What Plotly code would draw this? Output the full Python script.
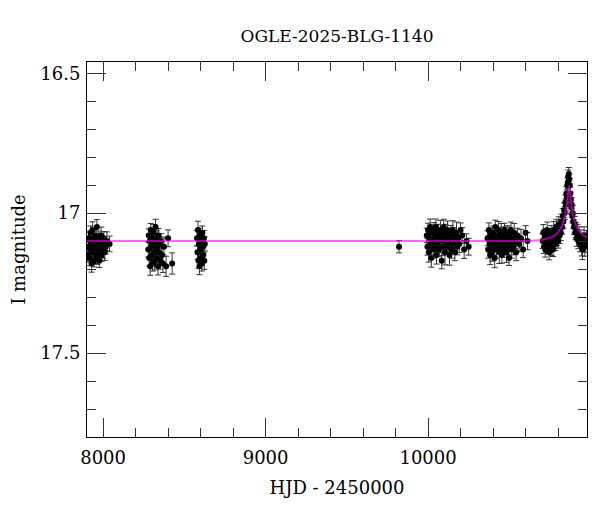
import plotly.graph_objects as go

# ---- data (HJD - 2450000, I mag, error) ----
t1 = [7906, 7910, 7913, 7917, 7920, 7923, 7926, 7929, 7932, 7935, 7938, 7941, 7944, 7947, 7950, 7953, 7956, 7959, 7962, 7965,
      7968, 7971, 7974, 7977, 7980, 7984, 7988, 7992, 7996, 8000, 8005, 8010, 8016, 8024, 8040]
m1 = [17.15, 17.12, 17.09, 17.16, 17.10, 17.07, 17.13, 17.18, 17.11, 17.06, 17.14, 17.09, 17.17, 17.12, 17.08, 17.15, 17.10, 17.13, 17.05, 17.16,
      17.11, 17.09, 17.14, 17.17, 17.10, 17.12, 17.08, 17.15, 17.11, 17.13, 17.09, 17.14, 17.12, 17.10, 17.11]
e1 = [0.025, 0.030, 0.022, 0.028, 0.035, 0.024, 0.027, 0.031, 0.023, 0.029, 0.026, 0.033, 0.022, 0.028, 0.025, 0.030, 0.024, 0.036, 0.027, 0.023,
      0.029, 0.026, 0.032, 0.024, 0.028, 0.025, 0.030, 0.022, 0.027, 0.031, 0.024, 0.029, 0.026, 0.033, 0.028]

t2 = [8278, 8281, 8284, 8287, 8290, 8293, 8296, 8299, 8302, 8305, 8308, 8311, 8314, 8317, 8320, 8323, 8326, 8329, 8332, 8335,
      8338, 8341, 8344, 8348, 8352, 8356, 8362, 8368, 8375, 8388, 8400, 8425]
m2 = [17.13, 17.08, 17.16, 17.10, 17.19, 17.06, 17.12, 17.15, 17.09, 17.18, 17.11, 17.07, 17.14, 17.17, 17.10, 17.05, 17.13, 17.16, 17.09, 17.12,
      17.19, 17.08, 17.14, 17.11, 17.17, 17.10, 17.15, 17.18, 17.12, 17.19, 17.09, 17.18]
e2 = [0.027, 0.024, 0.030, 0.026, 0.032, 0.023, 0.028, 0.025, 0.031, 0.027, 0.024, 0.029, 0.026, 0.033, 0.025, 0.028, 0.030, 0.024, 0.027, 0.029,
      0.031, 0.025, 0.028, 0.026, 0.030, 0.027, 0.029, 0.032, 0.034, 0.036, 0.030, 0.038]

t3 = [8578, 8581, 8584, 8587, 8590, 8593, 8596, 8599, 8602, 8605, 8608, 8611, 8614, 8617, 8620, 8623, 8626]
m3 = [17.09, 17.14, 17.06, 17.17, 17.11, 17.19, 17.08, 17.13, 17.16, 17.10, 17.18, 17.07, 17.12, 17.15, 17.09, 17.17, 17.11]
e3 = [0.028, 0.025, 0.031, 0.027, 0.024, 0.030, 0.026, 0.029, 0.025, 0.032, 0.027, 0.024, 0.030, 0.026, 0.028, 0.031, 0.025]

t_single = [9821]
m_single = [17.12]
e_single = [0.022]

t4 = [9992, 9996, 10000, 10004, 10008, 10012, 10016, 10020, 10024, 10028, 10032, 10036, 10040, 10044, 10048, 10052, 10056, 10060, 10064, 10068,
      10072, 10076, 10080, 10084, 10088, 10092, 10096, 10100, 10104, 10108, 10112, 10116, 10120, 10124, 10128, 10132, 10136, 10140, 10144, 10148,
      10152, 10156, 10160, 10165, 10170, 10175, 10180, 10186, 10192, 10200, 10210, 10222, 10236, 10250]
m4 = [17.08, 17.12, 17.06, 17.14, 17.09, 17.05, 17.11, 17.16, 17.07, 17.10, 17.13, 17.06, 17.09, 17.12, 17.05, 17.15, 17.08, 17.11, 17.07, 17.13,
      17.10, 17.06, 17.09, 17.17, 17.08, 17.12, 17.05, 17.10, 17.14, 17.07, 17.09, 17.12, 17.06, 17.11, 17.08, 17.15, 17.10, 17.07, 17.13, 17.09,
      17.06, 17.11, 17.08, 17.14, 17.10, 17.07, 17.12, 17.09, 17.11, 17.06, 17.08, 17.13, 17.10, 17.12]
e4 = [0.026, 0.030, 0.024, 0.035, 0.027, 0.029, 0.025, 0.033, 0.028, 0.024, 0.031, 0.026, 0.040, 0.027, 0.029, 0.032, 0.025, 0.028, 0.030, 0.026,
      0.024, 0.034, 0.027, 0.029, 0.025, 0.031, 0.028, 0.026, 0.045, 0.030, 0.027, 0.025, 0.032, 0.028, 0.024, 0.036, 0.029, 0.026, 0.031, 0.027,
      0.033, 0.025, 0.028, 0.030, 0.026, 0.038, 0.029, 0.027, 0.031, 0.025, 0.028, 0.032, 0.026, 0.030]

t5 = [10366, 10370, 10374, 10378, 10382, 10386, 10390, 10394, 10398, 10402, 10406, 10410, 10414, 10418, 10422, 10426, 10430, 10434, 10438, 10442,
      10446, 10450, 10454, 10458, 10462, 10466, 10470, 10474, 10478, 10482, 10486, 10490, 10494, 10498, 10502, 10506, 10510, 10515, 10520, 10525,
      10530, 10536, 10542, 10550, 10560, 10572, 10585, 10600, 10612]
m5 = [17.09, 17.13, 17.06, 17.11, 17.15, 17.08, 17.10, 17.14, 17.07, 17.12, 17.09, 17.16, 17.05, 17.10, 17.13, 17.08, 17.11, 17.06, 17.14, 17.09,
      17.12, 17.07, 17.15, 17.10, 17.08, 17.13, 17.06, 17.11, 17.09, 17.14, 17.07, 17.12, 17.10, 17.16, 17.08, 17.11, 17.06, 17.13, 17.09, 17.12,
      17.07, 17.10, 17.14, 17.08, 17.11, 17.09, 17.13, 17.07, 17.10]
e5 = [0.027, 0.031, 0.025, 0.029, 0.034, 0.026, 0.028, 0.032, 0.024, 0.030, 0.027, 0.035, 0.025, 0.029, 0.031, 0.026, 0.028, 0.030, 0.040, 0.027,
      0.025, 0.033, 0.029, 0.026, 0.031, 0.028, 0.024, 0.030, 0.027, 0.036, 0.025, 0.029, 0.032, 0.027, 0.030, 0.026, 0.028, 0.031, 0.025, 0.029,
      0.033, 0.027, 0.030, 0.026, 0.028, 0.032, 0.029, 0.025, 0.031]

t6 = [10705, 10709, 10713, 10717, 10721, 10725, 10729, 10733, 10737, 10741, 10745, 10749, 10753, 10757, 10761, 10765, 10769, 10773, 10777, 10781,
      10785, 10789, 10793, 10797, 10801, 10805, 10809, 10813, 10817, 10821, 10825, 10829, 10833, 10837, 10841, 10845, 10848, 10851, 10854, 10857,
      10860, 10863, 10866, 10869, 10872, 10875, 10878, 10881, 10884, 10887, 10890, 10894, 10898, 10902, 10906, 10910, 10915, 10920, 10925, 10930,
      10935, 10940, 10945, 10950, 10955, 10960, 10965, 10970, 10975]
m6 = [17.10, 17.07, 17.12, 17.09, 17.13, 17.08, 17.11, 17.06, 17.12, 17.09, 17.14, 17.08, 17.11, 17.07, 17.12, 17.09, 17.13, 17.06, 17.10, 17.08,
      17.11, 17.05, 17.09, 17.07, 17.10, 17.04, 17.08, 17.05, 17.07, 17.03, 17.05, 17.01, 17.03, 16.99, 17.00, 16.96, 16.97, 16.93, 16.94, 16.90,
      16.89, 16.87, 16.86, 16.88, 16.90, 16.93, 16.95, 16.98, 16.97, 17.01, 17.00, 17.03, 17.05, 17.04, 17.07, 17.06, 17.09, 17.07, 17.10, 17.08,
      17.11, 17.09, 17.12, 17.13, 17.10, 17.08, 17.12, 17.11, 17.09]
e6 = [0.026, 0.029, 0.024, 0.031, 0.027, 0.025, 0.030, 0.028, 0.026, 0.032, 0.027, 0.024, 0.029, 0.026, 0.031, 0.028, 0.025, 0.030, 0.027, 0.029,
      0.024, 0.028, 0.026, 0.030, 0.025, 0.027, 0.029, 0.024, 0.028, 0.026, 0.025, 0.027, 0.024, 0.026, 0.023, 0.025, 0.022, 0.024, 0.023, 0.025,
      0.022, 0.024, 0.023, 0.022, 0.024, 0.023, 0.025, 0.024, 0.026, 0.025, 0.027, 0.024, 0.026, 0.028, 0.025, 0.027, 0.029, 0.030, 0.027, 0.031,
      0.028, 0.030, 0.033, 0.036, 0.029, 0.031, 0.034, 0.030, 0.028]

# model light curve
model_t = [7900, 10500, 10650, 10700, 10740, 10770, 10790, 10810, 10825, 10840, 10850, 10858, 10864, 10868,
           10872, 10878, 10886, 10896, 10911, 10926, 10946, 10966, 10985]
model_m = [17.100, 17.100, 17.098, 17.095, 17.090, 17.083, 17.075, 17.060, 17.045, 17.015, 16.985, 16.950, 16.915, 16.902,
           16.915, 16.950, 16.985, 17.015, 17.045, 17.060, 17.075, 17.083, 17.087]

title_text = "OGLE-2025-BLG-1140"
x_label = "HJD - 2450000"
y_label = "I magnitude"
x_ticks = [8000, 9000, 10000]
y_ticks = [16.5, 17, 17.5]
y_tick_text = ["16.5", "17", "17.5"]

t_all = t1 + t2 + t3 + t_single + t4 + t5 + t6
m_all = m1 + m2 + m3 + m_single + m4 + m5 + m6
e_all = e1 + e2 + e3 + e_single + e4 + e5 + e6

FONT = "DejaVu Serif"

fig = go.Figure()
fig.add_trace(go.Scatter(
    x=t_all, y=m_all, mode="markers",
    marker=dict(color="black", size=6),
    error_y=dict(type="data", array=e_all, color="#333333", thickness=1, width=3),
    showlegend=False,
))
fig.add_trace(go.Scatter(
    x=model_t, y=model_m, mode="lines",
    line=dict(color="#ff00ff", width=2, shape="spline", smoothing=0.6),
    opacity=0.6, showlegend=False,
))

axis_common = dict(
    showline=True, linecolor="black", linewidth=1, mirror="ticks",
    ticks="inside", tickcolor="#333", tickwidth=1, ticklen=19,
    showgrid=False, zeroline=False, automargin=False,
    tickfont=dict(family=FONT, size=18, color="black"),
)

fig.update_layout(
    width=600, height=512,
    margin=dict(l=79, r=21, t=54, b=83),
    paper_bgcolor="white", plot_bgcolor="white",
    title=dict(text=title_text, x=0.5, xref="paper", y=1 - 28 / 512, yref="container",
               yanchor="middle", xanchor="center",
               font=dict(family=FONT, size=17, color="black")),
    font=dict(family=FONT, size=18, color="black"),
)
fig.update_xaxes(
    range=[7901, 10978], tickvals=x_ticks, ticktext=[str(v) for v in x_ticks],
    minor=dict(dtick=200, tick0=0, ticks="inside", ticklen=9, tickcolor="#333", tickwidth=1),
    title=dict(text=x_label, font=dict(family=FONT, size=18, color="black"), standoff=14),
    ticklabelstandoff=4,
    **axis_common,
)
fig.update_yaxes(
    range=[17.8, 16.46], tickvals=y_ticks, ticktext=y_tick_text,
    minor=dict(dtick=0.1, tick0=0, ticks="inside", ticklen=9, tickcolor="#333", tickwidth=1),
    title=dict(text=y_label, font=dict(family=FONT, size=18, color="black"), standoff=14),
    ticklabelstandoff=2,
    **axis_common,
)

fig.write_html("out.html")
